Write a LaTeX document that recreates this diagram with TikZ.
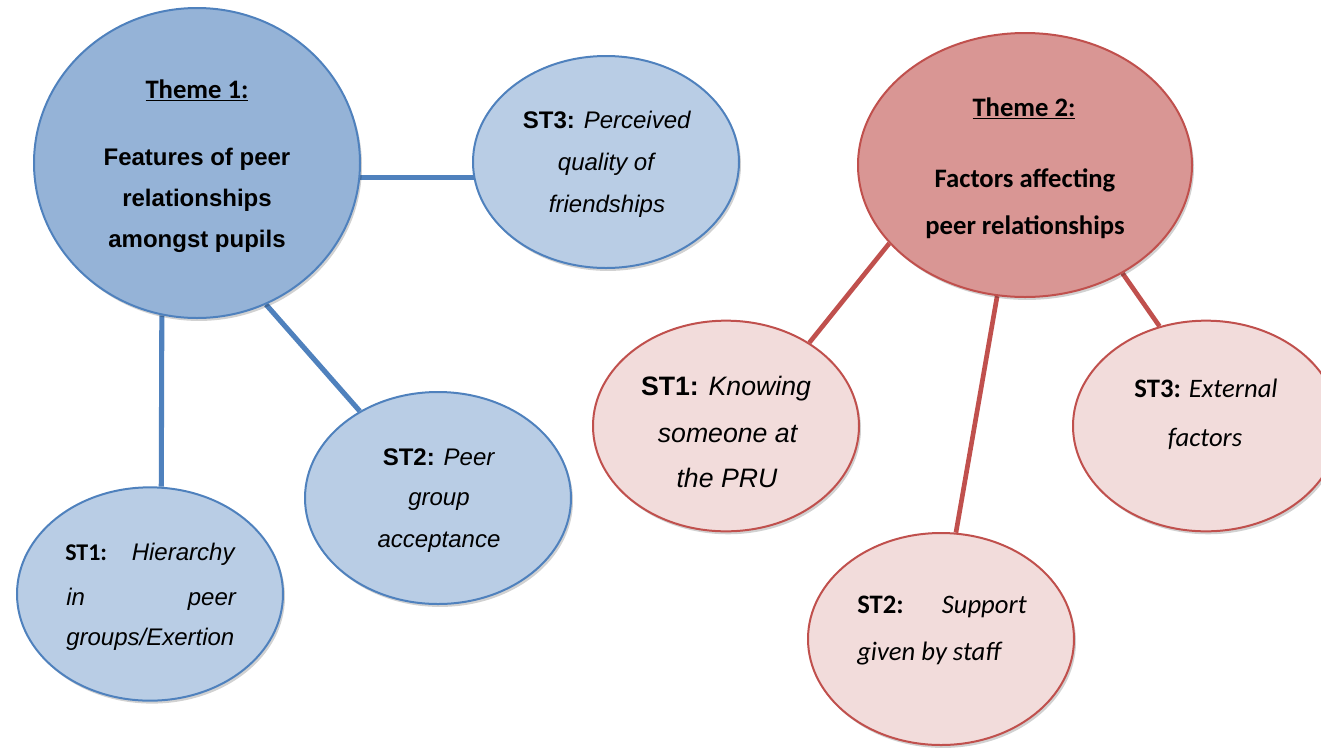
\documentclass[tikz,border=0pt]{standalone}
\usepackage{fontspec}
\setmainfont{Liberation Sans}
\newfontfamily\calib{Carlito}
\usetikzlibrary{shapes.geometric,shadows,backgrounds}
\definecolor{bstroke}{HTML}{4F81BD}
\definecolor{bdark}{HTML}{95B3D7}
\definecolor{blight}{HTML}{B9CDE5}
\definecolor{rstroke}{HTML}{C0504D}
\definecolor{rdark}{HTML}{D99694}
\definecolor{rlight}{HTML}{F2DCDB}
\tikzset{
  bub/.style={ellipse, line width=1.5pt, inner sep=0pt,
    drop shadow={shadow xshift=1.5pt, shadow yshift=-2.2pt, opacity=0.18, fill=black}},
  bluebig/.style={bub, draw=bstroke, fill=bdark},
  bluesmall/.style={bub, draw=bstroke, fill=blight},
  redbig/.style={bub, draw=rstroke, fill=rdark},
  redsmall/.style={bub, draw=rstroke, fill=rlight},
  bline/.style={draw=bstroke, line width=3.8pt},
  rline/.style={draw=rstroke, line width=3.5pt},
  txt/.style={inner sep=0pt, anchor=base, text=black},
  txtw/.style={inner sep=0pt, anchor=base west, text=black},
  txte/.style={inner sep=0pt, anchor=base east, text=black},
  ar/.style={font=\fontsize{18}{21}\selectfont},
  arb/.style={font=\fontsize{20}{24}\selectfont},
  ca/.style={font=\calib\fontsize{20}{24}\selectfont},
  cas/.style={font=\calib\fontsize{18}{21}\selectfont},
}
\begin{document}
\begin{tikzpicture}[x=0.75pt,y=-0.75pt]
\useasboundingbox (0,0) rectangle (1321,747);
% ellipses
\node[bluebig, minimum width=244.5pt, minimum height=232.5pt] (th1) at (197,163) {};
\node[bluesmall, minimum width=199.5pt, minimum height=159pt] (st3l) at (606,162) {};
\node[bluesmall, minimum width=199.5pt, minimum height=159pt] (st2l) at (438,498) {};
\node[bluesmall, minimum width=199.5pt, minimum height=160pt] (st1l) at (150,594) {};
\node[redbig, minimum width=250.5pt, minimum height=198pt] (th2) at (1025,165) {};
\node[redsmall, minimum width=199.5pt, minimum height=158pt] (st1r) at (726,426) {};
\node[redsmall, minimum width=199.5pt, minimum height=158pt] (st3r) at (1206,426) {};
\node[redsmall, minimum width=199.5pt, minimum height=159pt] (st2r) at (941,639) {};
% connectors
\begin{scope}[on background layer]
\draw[bline] (th1.-5) -- (th1.-5 -| st3l.center);
\draw[bline] (th1.257.1) -- (st1l.84.1);
\draw[bline] (th1.-64.7) -- (st2l.132.6);
\draw[rline] (th2.210.3) -- (st1r.45.3);
\draw[rline] (th2.258) -- (st2r.82.3);
\draw[rline] (th2.-48.4) -- (st3r.115.9);
\end{scope}
% Theme 1 texts
\node[txt, ca] (t1a) at (197,98) {\textbf{\underline{Theme 1:}}};
\node[txt, ar] (t1b) at (197,165) {\textbf{Features of peer}};
\node[txt, ar] (t1c) at (197,206) {\textbf{relationships}};
\node[txt, ar] (t1d) at (197,247) {\textbf{amongst pupils}};
% ST3 left
\node[txt, ar] (s3la) at (607,128) {\textbf{ST3:} \textit{Perceived}};
\node[txt, ar] (s3lb) at (607,170) {\textit{quality of}};
\node[txt, ar] (s3lc) at (607,212) {\textit{friendships}};
% ST2 left
\node[txt, ar] (s2la) at (439,465) {\textbf{ST2:} \textit{Peer}};
\node[txt, ar] (s2lb) at (439,505) {\textit{group}};
\node[txt, ar] (s2lc) at (439,547) {\textit{acceptance}};
% ST1 left
\node[txtw, cas] (s1la) at (65,560) {\textbf{ST1:}};
\node[txte, ar] (s1lb) at (236,560) {\textit{Hierarchy}};
\node[txtw, ar] (s1lc) at (66,605) {\textit{in}};
\node[txte, ar] (s1ld) at (237,605) {\textit{peer}};
\node[txtw, ar] (s1le) at (66,645) {\textit{groups/Exertion}};
% Theme 2 texts
\node[txt, ca] (t2a) at (1024,116) {\textbf{\underline{Theme 2:}}};
\node[txt, ca] (t2b) at (1025,187) {\textbf{Factors affecting}};
\node[txt, ca] (t2c) at (1025,234) {\textbf{peer relationships}};
% ST1 right
\node[txt, arb] (s1ra) at (726,395) {\textbf{ST1:} \textit{Knowing}};
\node[txt, arb] (s1rb) at (728,442) {\textit{someone at}};
\node[txt, arb] (s1rc) at (727,487) {\textit{the PRU}};
% ST3 right
\node[txt, ca] (s3ra) at (1206,397) {\textbf{ST3:} \textit{External}};
\node[txt, ca] (s3rb) at (1205,446) {\textit{factors}};
% ST2 right
\node[txtw, ca] (s2ra) at (857,613) {\textbf{ST2:}};
\node[txte, ca] (s2rb) at (1027,613) {\textit{Support}};
\node[txtw, ca] (s2rc) at (857,660) {\textit{given by staff}};
\end{tikzpicture}
\end{document}
